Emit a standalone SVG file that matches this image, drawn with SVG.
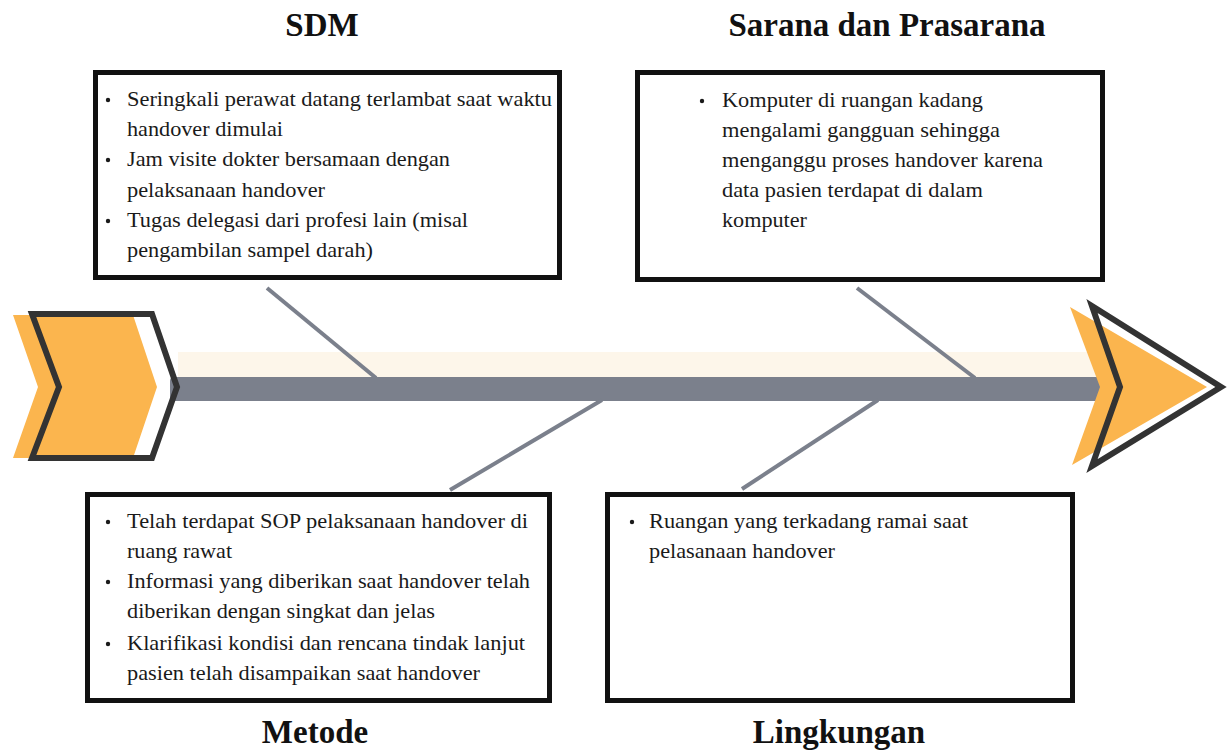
<svg xmlns="http://www.w3.org/2000/svg" width="1228" height="751" viewBox="0 0 1228 751">
<style>
.box{fill:#fff;stroke:#111;stroke-width:5}
.t{font-family:"Liberation Serif","Times New Roman",serif;font-size:20px;fill:#1a1a1a}
.title{font-family:"Liberation Serif","Times New Roman",serif;font-weight:bold;font-size:33px;fill:#111;text-anchor:middle}
.bone{stroke:#7b808c;stroke-width:4;stroke-linecap:butt;fill:none}
.dot{fill:#1a1a1a}
.orange{fill:#fbb54e}
.outline{fill:none;stroke:#333;stroke-width:6;stroke-linejoin:miter}
</style>
<rect width="1228" height="751" fill="#fff"/>

<g id="spine">
  <rect x="178" y="352" width="925" height="25" fill="#fdf6ea"/>
  <rect x="170" y="377" width="935" height="24" rx="4" fill="#7b808c"/>
  <polygon class="orange" points="13,315 133,315 157,387 133,458 13,458 38,387"/>
  <polygon class="outline" points="32,314 152,314 177,387 152,458 32,458 59,387"/>
  <polygon class="orange" points="1070,307 1207,387 1072,465 1100,387"/>
  <polygon class="outline" points="1092,306 1221,387 1092,466 1120,387"/>
</g>

<g id="connectors">
  <line class="bone" x1="267" y1="288" x2="376" y2="378"/>
  <line class="bone" x1="857" y1="288" x2="975" y2="378"/>
  <line class="bone" x1="602" y1="400" x2="450" y2="490"/>
  <line class="bone" x1="878" y1="400" x2="742" y2="489"/>
</g>

<g id="node-sdm">
  <text class="title" x="322" y="36">SDM</text>
  <rect class="box" x="95.5" y="72.5" width="464" height="205"/>
  <circle class="dot" cx="108" cy="100" r="2.2"/>
  <circle class="dot" cx="108" cy="160" r="2.2"/>
  <circle class="dot" cx="108" cy="221" r="2.2"/>
  <g transform="matrix(1.12 0 0 1 127 0)">
    <text class="t" x="0" y="106" textLength="379.5" lengthAdjust="spacingAndGlyphs">Seringkali perawat datang terlambat saat waktu</text>
    <text class="t" x="0" y="136" textLength="139.3" lengthAdjust="spacingAndGlyphs">handover dimulai</text>
    <text class="t" x="0" y="166" textLength="288.4" lengthAdjust="spacingAndGlyphs">Jam visite dokter bersamaan dengan</text>
    <text class="t" x="0" y="197" textLength="176.8" lengthAdjust="spacingAndGlyphs">pelaksanaan handover</text>
    <text class="t" x="0" y="227" textLength="304.5" lengthAdjust="spacingAndGlyphs">Tugas delegasi dari profesi lain (misal</text>
    <text class="t" x="0" y="257" textLength="219.6" lengthAdjust="spacingAndGlyphs">pengambilan sampel darah)</text>
  </g>
</g>

<g id="node-sarana">
  <text class="title" x="887" y="36">Sarana dan Prasarana</text>
  <rect class="box" x="637.5" y="72.5" width="465" height="207"/>
  <circle class="dot" cx="702" cy="101" r="2.2"/>
  <g transform="matrix(1.12 0 0 1 722 0)">
    <text class="t" x="0" y="107" textLength="233" lengthAdjust="spacingAndGlyphs">Komputer di ruangan kadang</text>
    <text class="t" x="0" y="137" textLength="248.2" lengthAdjust="spacingAndGlyphs">mengalami gangguan sehingga</text>
    <text class="t" x="0" y="167" textLength="286.6" lengthAdjust="spacingAndGlyphs">menganggu proses handover karena</text>
    <text class="t" x="0" y="197" textLength="233" lengthAdjust="spacingAndGlyphs">data pasien terdapat di dalam</text>
    <text class="t" x="0" y="227" textLength="75.9" lengthAdjust="spacingAndGlyphs">komputer</text>
  </g>
</g>

<g id="node-metode">
  <rect class="box" x="87.5" y="494.5" width="462" height="206"/>
  <circle class="dot" cx="108" cy="522" r="2.2"/>
  <circle class="dot" cx="108" cy="582" r="2.2"/>
  <circle class="dot" cx="108" cy="644" r="2.2"/>
  <g transform="matrix(1.12 0 0 1 127 0)">
    <text class="t" x="0" y="528" textLength="358" lengthAdjust="spacingAndGlyphs">Telah terdapat SOP pelaksanaan handover di</text>
    <text class="t" x="0" y="558" textLength="93.8" lengthAdjust="spacingAndGlyphs">ruang rawat</text>
    <text class="t" x="0" y="588" textLength="359.8" lengthAdjust="spacingAndGlyphs">Informasi yang diberikan saat handover telah</text>
    <text class="t" x="0" y="618" textLength="275" lengthAdjust="spacingAndGlyphs">diberikan dengan singkat dan jelas</text>
    <text class="t" x="0" y="650" textLength="355.4" lengthAdjust="spacingAndGlyphs">Klarifikasi kondisi dan rencana tindak lanjut</text>
    <text class="t" x="0" y="680" textLength="315.2" lengthAdjust="spacingAndGlyphs">pasien telah disampaikan saat handover</text>
  </g>
  <text class="title" x="315" y="743">Metode</text>
</g>

<g id="node-lingkungan">
  <rect class="box" x="607.5" y="494.5" width="465" height="206"/>
  <circle class="dot" cx="632" cy="522" r="2.2"/>
  <g transform="matrix(1.12 0 0 1 649 0)">
    <text class="t" x="0" y="528" textLength="284.8" lengthAdjust="spacingAndGlyphs">Ruangan yang terkadang ramai saat</text>
    <text class="t" x="0" y="558" textLength="166.1" lengthAdjust="spacingAndGlyphs">pelasanaan handover</text>
  </g>
  <text class="title" x="839" y="743">Lingkungan</text>
</g>
</svg>
